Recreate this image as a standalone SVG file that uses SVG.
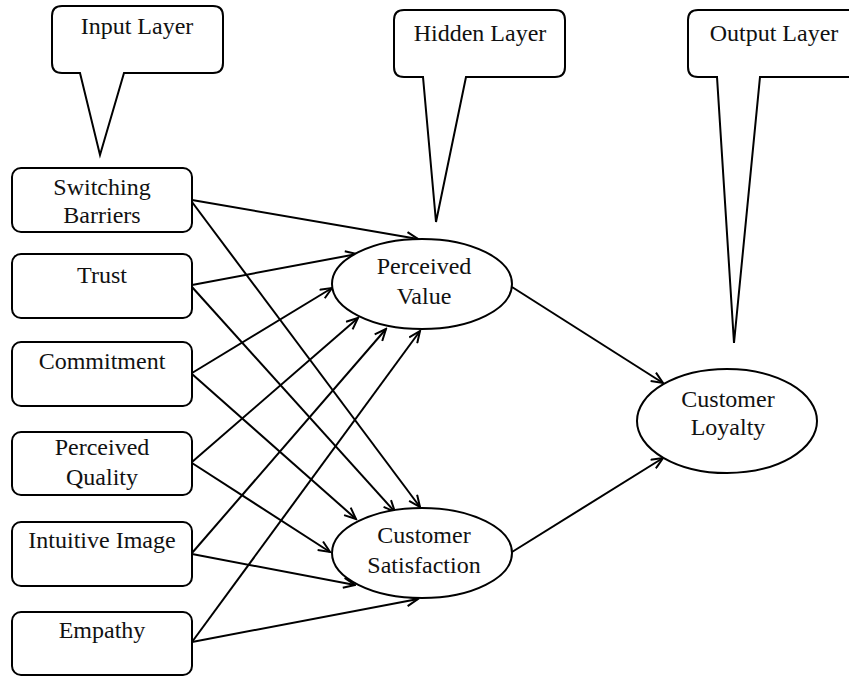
<svg xmlns="http://www.w3.org/2000/svg" width="849" height="676" viewBox="0 0 849 676">
<style>
  .box { fill: #fff; stroke: #000; stroke-width: 2; }
  .call { fill: #fff; stroke: #000; stroke-width: 2; stroke-linejoin: miter; }
  .ell { fill: #fff; stroke: #000; stroke-width: 2; }
  .lbl { font-family: "Liberation Serif", "Times New Roman", serif; font-size: 24px; fill: #111; text-anchor: middle; }
  .edge { stroke: #000; stroke-width: 2; fill: none; marker-end: url(#arr); }
</style>
<defs>
  <marker id="arr" markerWidth="14" markerHeight="12" viewBox="0 0 14 12" refX="12.5" refY="6" orient="auto" markerUnits="userSpaceOnUse">
    <path d="M1,1 L12.5,6 L1,11" fill="none" stroke="#000" stroke-width="2"/>
  </marker>
</defs>
<rect width="849" height="676" fill="#fff"/>

<g id="callout-input">
  <path class="call" d="M62,6 H213 Q223,6 223,16 V63 Q223,73 213,73 H124 L100,155 L80,73 H62 Q52,73 52,63 V16 Q52,6 62,6 Z"/>
  <text class="lbl" x="137" y="34">Input Layer</text>
</g>
<g id="callout-hidden">
  <path class="call" d="M404,10 H555 Q565,10 565,20 V67 Q565,77 555,77 H466 L436,222 L423,77 H404 Q394,77 394,67 V20 Q394,10 404,10 Z"/>
  <text class="lbl" x="480" y="41">Hidden Layer</text>
</g>
<g id="callout-output">
  <path class="call" d="M698,10 H870 V77 H760 L734,343 L717,77 H698 Q688,77 688,67 V20 Q688,10 698,10 Z"/>
  <text class="lbl" x="774" y="41">Output Layer</text>
</g>

<g id="connectors">
  <line class="edge" x1="192" y1="200" x2="418" y2="239"/>
  <line class="edge" x1="192" y1="202" x2="420" y2="507"/>
  <line class="edge" x1="192" y1="285" x2="357" y2="254"/>
  <line class="edge" x1="192" y1="287" x2="395" y2="512"/>
  <line class="edge" x1="192" y1="373" x2="332" y2="288"/>
  <line class="edge" x1="192" y1="374" x2="356" y2="519"/>
  <line class="edge" x1="192" y1="462" x2="358" y2="318"/>
  <line class="edge" x1="192" y1="463" x2="330" y2="552"/>
  <line class="edge" x1="192" y1="553" x2="386" y2="329"/>
  <line class="edge" x1="192" y1="554" x2="355" y2="585"/>
  <line class="edge" x1="192" y1="642" x2="420" y2="331"/>
  <line class="edge" x1="192" y1="642" x2="418" y2="599"/>
  <line class="edge" x1="512" y1="287" x2="663" y2="383"/>
  <line class="edge" x1="512" y1="552" x2="663" y2="458"/>
</g>

<g id="switching-barriers">
  <rect class="box" x="12" y="168" width="180" height="64" rx="9"/>
  <text class="lbl" x="102" y="195">Switching</text>
  <text class="lbl" x="102" y="223">Barriers</text>
</g>
<g id="trust">
  <rect class="box" x="12" y="254" width="180" height="64" rx="9"/>
  <text class="lbl" x="102" y="283">Trust</text>
</g>
<g id="commitment">
  <rect class="box" x="12" y="342" width="180" height="64" rx="9"/>
  <text class="lbl" x="102" y="369">Commitment</text>
</g>
<g id="perceived-quality">
  <rect class="box" x="12" y="432" width="180" height="63" rx="9"/>
  <text class="lbl" x="102" y="455">Perceived</text>
  <text class="lbl" x="102" y="485">Quality</text>
</g>
<g id="intuitive-image">
  <rect class="box" x="12" y="522" width="180" height="64" rx="9"/>
  <text class="lbl" x="102" y="548">Intuitive Image</text>
</g>
<g id="empathy">
  <rect class="box" x="12" y="612" width="180" height="63" rx="9"/>
  <text class="lbl" x="102" y="638">Empathy</text>
</g>

<g id="perceived-value">
  <ellipse class="ell" cx="422" cy="284" rx="90" ry="45"/>
  <text class="lbl" x="424" y="274">Perceived</text>
  <text class="lbl" x="424" y="304">Value</text>
</g>
<g id="customer-satisfaction">
  <ellipse class="ell" cx="422" cy="553" rx="90" ry="45"/>
  <text class="lbl" x="424" y="543">Customer</text>
  <text class="lbl" x="424" y="573">Satisfaction</text>
</g>
<g id="customer-loyalty">
  <ellipse class="ell" cx="727" cy="421" rx="90" ry="52"/>
  <text class="lbl" x="728" y="407">Customer</text>
  <text class="lbl" x="728" y="435">Loyalty</text>
</g>
</svg>
